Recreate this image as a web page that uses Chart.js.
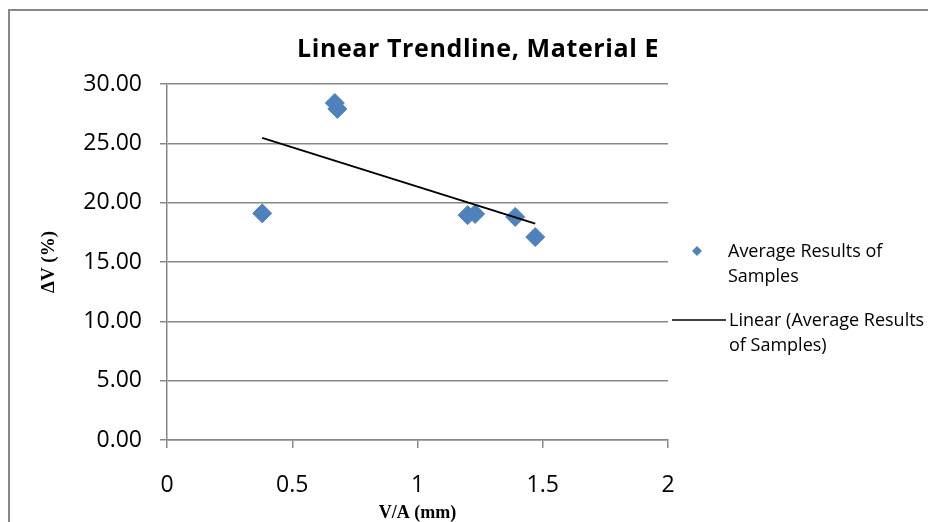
<!DOCTYPE html>
<html>
<head>
<meta charset="utf-8">
<title>Linear Trendline, Material E</title>
<script src="https://cdn.jsdelivr.net/npm/chart.js@4.4.0/dist/chart.umd.min.js"></script>
<style>
  html, body { margin: 0; padding: 0; background: #fff; }
  #wrap { position: relative; width: 928px; height: 522px; overflow: hidden; }
  #frame { position: absolute; left: 8px; top: 9px; width: 1000px; height: 600px;
           border-left: 2px solid #888; border-top: 2px solid #888; }
  #chart { position: absolute; left: 0; top: 0; }
</style>
</head>
<body>
<div id="wrap">
  <div id="frame"></div>
  <canvas id="chart" width="928" height="522"></canvas>
</div>
<script>
// Daten
const chartTitle = 'Linear Trendline, Material E';
const xTitle = 'V/A (mm)';
const yTitle = 'ΔV (%)';
const seriesName = ['Average Results of', 'Samples'];
const trendName = ['Linear (Average Results', 'of Samples)'];

const thickness = [0.38, 0.67, 0.68, 1.20, 1.23, 1.39, 1.47];
const deltaV = [19.1, 28.4, 27.9, 18.95, 19.05, 18.8, 17.1];

const xTicks = [0, 0.5, 1, 1.5, 2];
const yTicks = [0, 5, 10, 15, 20, 25, 30];

// lineare Regression (wie Excel-Trendlinie)
function linearFit(xs, ys) {
    const n = xs.length;
    const mx = xs.reduce((a, b) => a + b, 0) / n;
    const my = ys.reduce((a, b) => a + b, 0) / n;
    let sxy = 0, sxx = 0;
    for (let i = 0; i < n; i++) {
        sxy += (xs[i] - mx) * (ys[i] - my);
        sxx += (xs[i] - mx) * (xs[i] - mx);
    }
    const slope = sxy / sxx;
    return { slope: slope, intercept: my - slope * mx };
}

const fit = linearFit(thickness, deltaV);
const xMin = Math.min(...thickness);
const xMax = Math.max(...thickness);
const trendPoints = [xMin, xMax].map(x => ({ x: x, y: fit.intercept + fit.slope * x }));
const points = thickness.map((x, i) => ({ x: x, y: deltaV[i] }));

const markerColor = '#4F81BD';
const gridColor = '#888888';

// Titel und Legende selbst zeichnen
const decorPlugin = {
    id: 'decor',
    afterDraw(chart) {
        const ctx = chart.ctx;
        ctx.save();
        ctx.fillStyle = '#000';
        ctx.textBaseline = 'middle';

        ctx.font = 'bold 25px "Open Sans"';
        ctx.letterSpacing = '0.6px';
        ctx.textAlign = 'center';
        ctx.fillText(chartTitle, 478, 50);
        ctx.letterSpacing = '0px';

        ctx.font = '18px "Open Sans"';
        ctx.textAlign = 'left';

        // Raute
        const dx = 697, dy = 251, r = 5;
        ctx.fillStyle = markerColor;
        ctx.beginPath();
        ctx.moveTo(dx - r, dy);
        ctx.lineTo(dx, dy - r);
        ctx.lineTo(dx + r, dy);
        ctx.lineTo(dx, dy + r);
        ctx.closePath();
        ctx.fill();

        ctx.fillStyle = '#000';
        seriesName.forEach((t, i) => ctx.fillText(t, 728, 252 + i * 25));

        // Linie
        ctx.strokeStyle = '#000';
        ctx.lineWidth = 1.6;
        ctx.beginPath();
        ctx.moveTo(672, 320);
        ctx.lineTo(726, 320);
        ctx.stroke();
        trendName.forEach((t, i) => ctx.fillText(t, 729, 321 + i * 25));

        ctx.restore();
    }
};

Chart.defaults.font.family = '"Open Sans"';
Chart.defaults.color = '#000';

const ctx = document.getElementById('chart').getContext('2d');
new Chart(ctx, {
    type: 'scatter',
    data: {
        datasets: [
            {
                label: seriesName.join(' '),
                data: points,
                pointStyle: 'rectRot',
                pointRadius: 9.5,
                pointBackgroundColor: markerColor,
                pointBorderColor: markerColor,
                pointBorderWidth: 1,
                order: 1
            },
            {
                label: trendName.join(' '),
                data: trendPoints,
                showLine: true,
                borderColor: '#000',
                borderWidth: 1.8,
                pointRadius: 0,
                order: 0
            }
        ]
    },
    options: {
        responsive: false,
        animation: false,
        layout: { padding: { top: 84, right: 260, left: 0, bottom: 0 } },
        plugins: {
            legend: { display: false },
            title: { display: false },
            tooltip: { enabled: false }
        },
        scales: {
            x: {
                type: 'linear',
                min: 0,
                max: 2,
                afterBuildTicks: s => { s.ticks = xTicks.map(v => ({ value: v })); },
                afterFit: s => { s.height = 82; },
                ticks: { font: { size: 23 }, padding: 24, color: '#000', callback: v => String(v) },
                grid: { drawOnChartArea: false, tickLength: 8, color: gridColor, lineWidth: 1.5 },
                border: { color: gridColor, width: 1.5 },
                title: {
                    display: true,
                    text: xTitle,
                    font: { family: 'Liberation Serif', weight: 'bold', size: 18 },
                    padding: { top: 0, bottom: -2 }
                }
            },
            y: {
                type: 'linear',
                min: 0,
                max: 30,
                afterBuildTicks: s => { s.ticks = yTicks.map(v => ({ value: v })); },
                afterFit: s => { s.width = 167; },
                ticks: { font: { size: 23 }, padding: 18, color: '#000', callback: v => v.toFixed(2) },
                grid: { tickLength: 7, color: gridColor, lineWidth: 1.5 },
                border: { color: gridColor, width: 1.5 },
                title: {
                    display: true,
                    text: yTitle,
                    font: { family: 'Liberation Serif', weight: 'bold', size: 19 },
                    padding: { top: 38, bottom: 0 }
                }
            }
        }
    },
    plugins: [decorPlugin]
});
</script>
</body>
</html>
